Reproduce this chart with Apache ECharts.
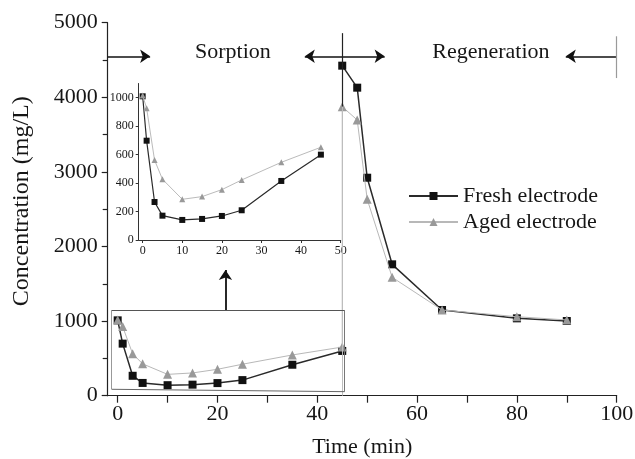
<!DOCTYPE html>
<html><head><meta charset="utf-8">
<script src="https://cdn.jsdelivr.net/npm/echarts@6/dist/echarts.min.js"></script>
<style>html,body{margin:0;padding:0;background:#fff}#c{width:635px;height:459px}</style>
</head><body><div id="c"></div>
<script>
// ---- data ----
const sorptionTime = [0, 1, 3, 5, 10, 15, 20, 25, 35, 45];
const freshSorption = [1010, 698, 267, 171, 141, 148, 169, 209, 415, 600];
const agedSorption = [1015, 926, 562, 427, 286, 305, 354, 422, 546, 652];
const regenTime = [45, 48, 50, 55, 65, 80, 90];
const freshRegen = [4424, 4129, 2922, 1761, 1149, 1037, 1001];
const agedRegen = [3874, 3696, 2633, 1587, 1149, 1059, 1015];
const seriesNames = ['Fresh electrode', 'Aged electrode'];
const mainXLabels = [0, 20, 40, 60, 80, 100];
const mainXTicks = [0, 10, 20, 30, 40, 50, 60, 70, 80, 90, 100];
const insetXTicks = [0, 10, 20, 30, 40, 50];
const insetYTicks = [0, 200, 400, 600, 800, 1000];
const phaseLabels = ['Sorption', 'Regeneration'];
const phaseLabelPos = [[23.2, 4594], [74.9, 4594]];
// annotation geometry in data units
const arrowY = 4550;
const arrowSegs = [[-2, 6.5], [45, 37.5], [45, 53.5], [100, 89.8]];
const box = {left: -1.2, right: 45.5, top: 1149, bottomL: 86, bottomR: 54};
const pointer = {x: 21.6, from: 1149, to: 1685};

const FONT = "'Liberation Serif', 'Times New Roman', serif";
const TXT = '#161616';
const plain = v => String(v);
const pair = (xs, ys) => xs.map((x, i) => [x, ys[i]]);

const freshMain = pair(sorptionTime, freshSorption).concat([[45, '-']], pair(regenTime, freshRegen));
const agedMain = pair(sorptionTime, agedSorption).concat(pair(regenTime, agedRegen));

function seg(x1, y1, x2, y2, color, width, endSym) {
  const ls = {color: color, width: width, type: 'solid'};
  return [
    {coord: [x1, y1], symbol: 'none', lineStyle: ls},
    {coord: [x2, y2], symbol: endSym || 'none', lineStyle: ls}
  ];
}
const marks = [];
arrowSegs.forEach(s => marks.push(seg(s[0], arrowY, s[1], arrowY, '#111', 1.6, 'arrow')));
marks.push(seg(45, 3874, 45, 4860, '#222', 1.2));
marks.push(seg(45, 0, 45, 3874, '#bdbdbd', 1));
marks.push(seg(100, 4258, 100, 4818, '#9a9a9a', 1.2));
marks.push(seg(box.left, box.top, box.right, box.top, '#555', 1));
marks.push(seg(box.left, box.bottomL, box.left, box.top, '#999', 1));
marks.push(seg(box.left, box.bottomL, box.right, box.bottomR, '#666', 1));
marks.push(seg(box.right, box.bottomR, box.right, box.top, '#777', 1));
marks.push(seg(pointer.x, pointer.from, pointer.x, pointer.to, '#111', 1.8, 'arrow'));

const chart = echarts.init(document.getElementById('c'), null, {renderer: 'canvas'});
const axisLineStyle = {color: '#222', width: 1.2};
chart.setOption({
  animation: false,
  backgroundColor: '#fff',
  textStyle: {fontFamily: FONT, color: TXT},
  grid: [
    {left: 107.7, right: 18.3, top: 22.7, bottom: 63.3, outerBoundsMode: 'none', containLabel: false},
    {left: 138.7, right: 294.3, top: 83.5, bottom: 219, outerBoundsMode: 'none', containLabel: false}
  ],
  legend: {
    data: seriesNames, orient: 'vertical', left: 403, top: 180,
    itemWidth: 49, itemHeight: 10, itemGap: 4,
    textStyle: {fontSize: 22, lineHeight: 22, fontFamily: FONT, color: TXT},
    selectedMode: false
  },
  xAxis: [
    {gridIndex: 0, type: 'value', min: -2, max: 100, position: 'bottom',
     axisLine: {show: true, onZero: false, lineStyle: axisLineStyle},
     axisTick: {show: true, customValues: mainXTicks, length: 7, lineStyle: axisLineStyle},
     axisLabel: {customValues: mainXLabels, formatter: plain, fontSize: 22, fontFamily: FONT, color: TXT, margin: 8},
     splitLine: {show: false},
     name: 'Time (min)', nameLocation: 'middle', nameGap: 41,
     nameTextStyle: {fontSize: 22, fontFamily: FONT, color: TXT}},
    {gridIndex: 1, type: 'value', min: -1, max: 50, position: 'bottom',
     axisLine: {show: true, onZero: false, lineStyle: {color: '#333', width: 1}},
     axisTick: {show: true, customValues: insetXTicks, length: 3, lineStyle: {color: '#333'}},
     axisLabel: {customValues: insetXTicks, formatter: plain, fontSize: 12, fontFamily: FONT, color: TXT, margin: 5},
     splitLine: {show: false}}
  ],
  yAxis: [
    {gridIndex: 0, type: 'value', min: 0, max: 5000, interval: 1000, position: 'left',
     axisLine: {show: true, onZero: false, lineStyle: axisLineStyle},
     axisTick: {show: true, length: 6, lineStyle: axisLineStyle},
     minorTick: {show: true, splitNumber: 2, length: 5, lineStyle: axisLineStyle},
     axisLabel: {formatter: plain, fontSize: 22, fontFamily: FONT, color: TXT, margin: 10},
     splitLine: {show: false}, minorSplitLine: {show: false},
     name: 'Concentration (mg/L)', nameLocation: 'middle', nameGap: 74,
     nameTextStyle: {fontSize: 24, fontFamily: FONT, color: TXT, padding: [0, 0, 0, 16]}},
    {gridIndex: 1, type: 'value', min: 0, max: 1100, position: 'left',
     axisLine: {show: true, onZero: false, lineStyle: {color: '#333', width: 1}},
     axisTick: {show: true, customValues: insetYTicks, length: 3, lineStyle: {color: '#333'}},
     axisLabel: {customValues: insetYTicks, formatter: plain, fontSize: 12, fontFamily: FONT, color: TXT, margin: 5},
     splitLine: {show: false}}
  ],
  series: [
    {name: seriesNames[0], type: 'line', xAxisIndex: 0, yAxisIndex: 0, data: freshMain,
     symbol: 'rect', symbolSize: 8, showSymbol: true, connectNulls: false,
     lineStyle: {color: '#2a2a2a', width: 1.5}, itemStyle: {color: '#111'}, z: 3,
     markLine: {silent: true, animation: false, symbolSize: 10, label: {show: false},
                emphasis: {disabled: true}, data: marks}},
    {name: seriesNames[1], type: 'line', xAxisIndex: 0, yAxisIndex: 0, data: agedMain,
     symbol: 'triangle', symbolSize: 9, showSymbol: true,
     lineStyle: {color: '#b8b8b8', width: 1}, itemStyle: {color: '#999'}, z: 4},
    {name: seriesNames[0], type: 'line', xAxisIndex: 1, yAxisIndex: 1, data: pair(sorptionTime, freshSorption),
     symbol: 'rect', symbolSize: 6, lineStyle: {color: '#2a2a2a', width: 1.2}, itemStyle: {color: '#111'}, z: 3},
    {name: seriesNames[1], type: 'line', xAxisIndex: 1, yAxisIndex: 1, data: pair(sorptionTime, agedSorption),
     symbol: 'triangle', symbolSize: 6, lineStyle: {color: '#bbb', width: 1}, itemStyle: {color: '#999'}, z: 4},
    {type: 'scatter', xAxisIndex: 0, yAxisIndex: 0, data: phaseLabelPos, symbolSize: 1,
     itemStyle: {color: '#fff'}, silent: true, z: 5,
     label: {show: true, position: [0, 0], align: 'center', verticalAlign: 'middle',
             formatter: p => phaseLabels[p.dataIndex],
             fontSize: 22, fontFamily: FONT, color: TXT, opacity: 1}}
  ]
});
</script></body></html>
